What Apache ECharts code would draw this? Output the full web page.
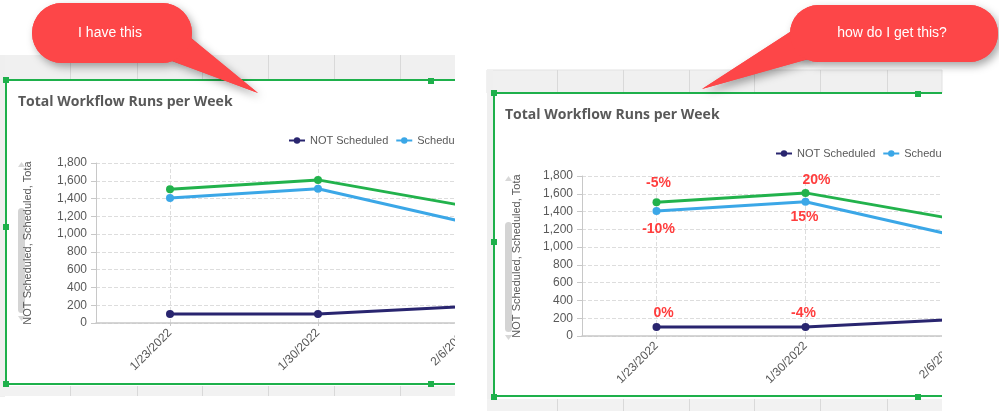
<!DOCTYPE html>
<html><head><meta charset="utf-8">
<script src="https://cdn.jsdelivr.net/npm/echarts@6/dist/echarts.min.js"></script>
<style>
html,body{margin:0;padding:0;width:999px;height:411px;overflow:hidden;background:#fff;}
.abs{position:absolute;}
#bg{left:0;top:0;width:999px;height:411px;}
#lwrap{left:8px;top:82px;width:447px;height:301px;overflow:hidden;}
#lchart{width:620px;height:301px;}
#rwrap{left:496px;top:95px;width:446px;height:300px;overflow:hidden;}
#rchart{width:620px;height:300px;}
#fg{left:0;top:0;width:999px;height:411px;pointer-events:none;}
</style></head><body>
<div id="bg" class="abs"></div>
<div id="lwrap" class="abs"><div id="lchart"></div></div>
<div id="rwrap" class="abs"><div id="rchart"></div></div>
<div id="fg" class="abs"></div>
<script>
// ---- data ----
const categories = ['1/23/2022', '1/30/2022', '2/6/2022'];
const seriesNames = ['NOT Scheduled', 'Scheduled', 'Total'];
const notScheduled = [100, 100, 185];
const scheduled = [1405, 1510, 1130];
const total = [1505, 1610, 1315];
const pctNotScheduled = ['0%', '-4%', ''];
const pctScheduled = ['-10%', '15%', ''];
const pctTotal = ['-5%', '20%', ''];
const yMin = 0, yMax = 1800, yStep = 200;
const titleText = 'Total Workflow Runs per Week';
const yAxisTitle = 'NOT Scheduled, Scheduled, Tota';
const bubbleLeftText = 'I have this';
const bubbleRightText = 'how do I get this?';

// ---- styles ----
const COLORS = ['#29256f', '#3ba7e7', '#22b24c'];
const GREEN = '#1eb04b';
const TXT = '#595959';
const SANS = '"Liberation Sans", Arial, sans-serif';
const RED = '#fd4648';

function lineSeries(name, values, color, labels, positions, offsets) {
  return {
    name: name, type: 'line', symbol: 'circle', symbolSize: 8, showSymbol: true,
    lineStyle: { width: 3, color: color }, itemStyle: { color: color },
    animation: false, clip: false,
    data: values.map(function (v, i) {
      const item = { value: v };
      if (labels && labels[i]) {
        item.label = {
          show: true, formatter: labels[i], position: positions[i], offset: offsets[i],
          color: '#ff3d3d', fontWeight: 'bold', fontSize: 14, fontFamily: SANS
        };
      }
      return item;
    })
  };
}

function chartOption(cfg) {
  return {
    animation: false,
    title: { text: titleText, left: cfg.titleLeft, top: 13, padding: 0,
      textStyle: { color: TXT, fontSize: 14, fontWeight: 'bold', fontFamily: '"Open Sans", sans-serif' } },
    legend: { left: cfg.legendLeft, top: 53, padding: 0, itemWidth: 16, itemHeight: 8, itemGap: 7,
      data: seriesNames, textStyle: { color: TXT, fontSize: 11, fontFamily: SANS } },
    grid: { left: cfg.gridLeft, top: 81, width: cfg.gridWidth, height: 160, outerBoundsMode: 'none', containLabel: false },
    xAxis: {
      type: 'category', data: categories, boundaryGap: true,
      axisLine: { show: true, lineStyle: { color: '#c8c8c8', width: 1.5 } },
      axisTick: { show: true, alignWithLabel: true, length: 3, lineStyle: { color: '#c8c8c8' } },
      axisLabel: { interval: 0, rotate: 45, color: TXT, fontSize: 12, margin: 8, fontFamily: SANS },
      splitLine: { show: true, alignWithLabel: true, lineStyle: { type: 'dashed', color: '#dddddd' } }
    },
    yAxis: {
      type: 'value', min: yMin, max: yMax, interval: yStep,
      axisLine: { show: true, lineStyle: { color: '#c8c8c8' } },
      axisTick: { show: true, length: 5, lineStyle: { color: '#c8c8c8' } },
      axisLabel: { color: TXT, fontSize: 12, margin: 9, fontFamily: SANS },
      splitLine: { show: true, lineStyle: { type: 'dashed', color: '#dddddd' } },
      name: yAxisTitle, nameLocation: 'middle', nameRotate: 90, nameGap: cfg.nameGap,
      nameTextStyle: { color: TXT, fontSize: 11, fontFamily: SANS }
    },
    graphic: [
      { type: 'rect', shape: { x: cfg.barX, y: cfg.barTop, width: 7, height: cfg.barH, r: 3.5 }, style: { fill: '#d4d4d4' } },
      { type: 'polygon', shape: { points: [[cfg.barX + 3.5, cfg.barTop - 46], [cfg.barX, cfg.barTop - 41], [cfg.barX + 7, cfg.barTop - 41]] }, style: { fill: '#d8d8d8' } },
      { type: 'polygon', shape: { points: [[cfg.barX, cfg.barTop + cfg.barH + 3], [cfg.barX + 7, cfg.barTop + cfg.barH + 3], [cfg.barX + 3.5, cfg.barTop + cfg.barH + 8]] }, style: { fill: '#d8d8d8' } }
    ],
    series: cfg.withLabels ? [
      lineSeries(seriesNames[0], notScheduled, COLORS[0], pctNotScheduled, ['top', 'top', 'top'], [[7, 2], [-2, 2], [0, 0]]),
      lineSeries(seriesNames[1], scheduled, COLORS[1], pctScheduled, ['bottom', 'bottom', 'bottom'], [[2, 2], [-1, -1], [0, 0]]),
      lineSeries(seriesNames[2], total, COLORS[2], pctTotal, ['top', 'top', 'top'], [[2, -3], [11, 3], [0, 0]])
    ] : [
      lineSeries(seriesNames[0], notScheduled, COLORS[0]),
      lineSeries(seriesNames[1], scheduled, COLORS[1]),
      lineSeries(seriesNames[2], total, COLORS[2])
    ]
  };
}

echarts.init(document.getElementById('lchart')).setOption(chartOption({
  titleLeft: 10, legendLeft: 280, gridLeft: 88, gridWidth: 444, nameGap: 63,
  barX: 10, barTop: 126, barH: 105, withLabels: false
}));
echarts.init(document.getElementById('rchart')).setOption(chartOption({
  titleLeft: 9, legendLeft: 279, gridLeft: 86, gridWidth: 447, nameGap: 60,
  barX: 9, barTop: 127, barH: 110, withLabels: true
}));

// ---- background (spreadsheet cells, selection borders) ----
function vlines(xs, y1, y2) {
  return xs.map(function (x) { return { type: 'line', shape: { x1: x + 0.5, y1: y1, x2: x + 0.5, y2: y2 }, style: { stroke: '#d9d9d9', lineWidth: 1 } }; });
}
function handles(pts) {
  return pts.map(function (p) { return { type: 'rect', shape: { x: p[0] - 3, y: p[1] - 3, width: 6, height: 6 }, style: { fill: GREEN } }; });
}
const bgEls = [].concat(
  [
    { type: 'rect', shape: { x: 0, y: 55, width: 455, height: 25 }, style: { fill: '#f0f0f0' } },
    { type: 'rect', shape: { x: 0, y: 55, width: 5, height: 342 }, style: { fill: '#efefef' } },
    { type: 'rect', shape: { x: 0, y: 386, width: 455, height: 10 }, style: { fill: '#f2f2f2' } },
    { type: 'rect', shape: { x: 487, y: 70, width: 455, height: 23 }, style: { fill: '#f0f0f0', stroke: '#e2e2e2', lineWidth: 1 } },
    { type: 'rect', shape: { x: 487, y: 70, width: 6, height: 341 }, style: { fill: '#efefef' } },
    { type: 'rect', shape: { x: 487, y: 399, width: 455, height: 12 }, style: { fill: '#f2f2f2' } }
  ],
  vlines([70, 137, 202, 268, 334, 400], 55, 80),
  vlines([70, 137, 202, 268, 334, 400], 386, 396),
  vlines([557, 623, 689, 754, 820, 887], 70, 92),
  vlines([557, 623, 689, 754, 820, 887], 399, 411),
  [
    { type: 'polyline', shape: { points: [[455, 80], [6, 80], [6, 384], [455, 384]] }, style: { stroke: GREEN, lineWidth: 2, fill: null } },
    { type: 'polyline', shape: { points: [[942, 93], [494, 93], [494, 396], [942, 396]] }, style: { stroke: GREEN, lineWidth: 2, fill: null } }
  ],
  handles([[6, 80], [431, 81], [6, 227], [6, 384], [431, 384], [494, 93], [918, 94], [494, 242], [494, 397], [918, 397]])
);
echarts.init(document.getElementById('bg')).setOption({ animation: false, graphic: bgEls });

// ---- speech bubbles ----
const shadow = { shadowBlur: 8, shadowColor: 'rgba(0,0,0,0.35)', shadowOffsetX: 3, shadowOffsetY: 4 };
function bubble(rect, r, tail, text, cx, cy) {
  const withShadow = Object.assign({ fill: RED }, shadow);
  return [
    { type: 'polygon', shape: { points: tail }, style: withShadow },
    { type: 'rect', shape: { x: rect[0], y: rect[1], width: rect[2], height: rect[3], r: r }, style: withShadow },
    { type: 'polygon', shape: { points: tail }, style: { fill: RED } },
    { type: 'rect', shape: { x: rect[0], y: rect[1], width: rect[2], height: rect[3], r: r }, style: { fill: RED } },
    { type: 'text', x: cx, y: cy, style: { text: text, fill: '#ffffff', fontSize: 14, fontFamily: SANS, align: 'center', verticalAlign: 'middle' } }
  ];
}
echarts.init(document.getElementById('fg')).setOption({
  animation: false,
  graphic: [].concat(
    bubble([32, 3, 160, 60], 30, [[172, 61], [191, 38], [258, 93]], bubbleLeftText, 110, 33),
    bubble([790, 5, 208, 57], 28.5, [[702, 89], [790, 32], [812, 58]], bubbleRightText, 892, 33)
  )
});
</script>
</body></html>
